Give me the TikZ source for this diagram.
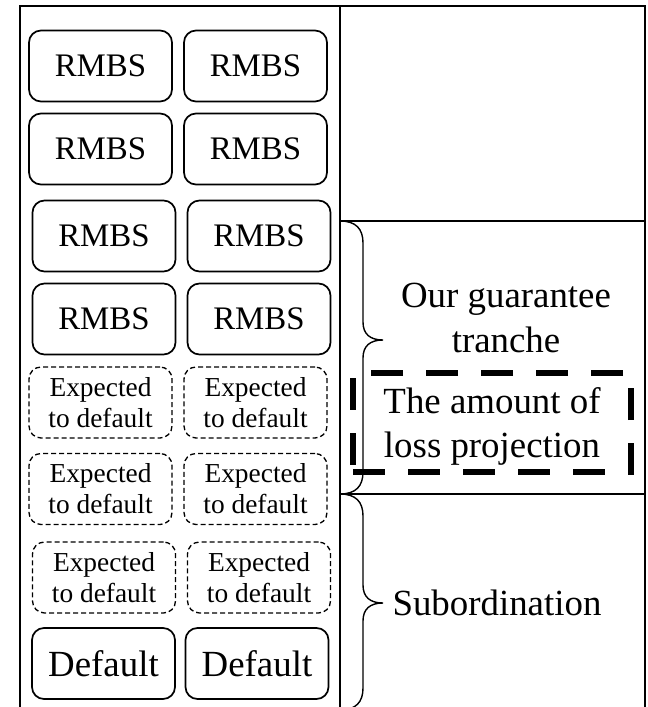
\documentclass[tikz,border=0pt]{standalone}
\usepackage{fontspec}
\setmainfont{Liberation Serif}
\begin{document}
\begin{tikzpicture}[x=1bp,y=-1bp,
  wall/.style={line width=1.8bp},
  brc/.style={line width=1.4bp},
  box/.style={draw,rounded corners=12bp,line width=1.7bp,inner sep=0pt,
    minimum width=143bp,minimum height=71bp},
  rmbs/.style={box,font=\fontsize{33}{38}\selectfont},
  expect/.style={box,line width=1.3bp,dash pattern=on 5bp off 3bp,
    align=center,font=\fontsize{27.5}{31}\selectfont},
  dflt/.style={box,font=\fontsize{37}{44}\selectfont},
  part/.style={align=center,font=\fontsize{37}{45}\selectfont},
  loss/.style={part,draw,line width=6bp,dash pattern=on 32bp off 23bp,
    inner sep=0pt,minimum width=278bp,minimum height=99bp}]
\useasboundingbox (0,0) rectangle (648,707);
% frame
\draw[wall] (20,712) -- (20,6) -- (645,6) -- (645,712);
\draw[wall] (340,6) -- (340,712);
\draw[wall] (340,221) -- (645,221);
\draw[wall] (340,494) -- (645,494);
% pool
\node[rmbs] (r1l) at (100.5,66) {RMBS};
\node[rmbs] (r1r) at (255.5,66) {RMBS};
\node[rmbs] (r2l) at (100.5,149) {RMBS};
\node[rmbs] (r2r) at (255.5,149) {RMBS};
\node[rmbs] (r3l) at (104,236) {RMBS};
\node[rmbs] (r3r) at (259,236) {RMBS};
\node[rmbs] (r4l) at (104,319) {RMBS};
\node[rmbs] (r4r) at (259,319) {RMBS};
\node[expect] (e1l) at (100.5,402.5) {Expected\\to default};
\node[expect] (e1r) at (255.5,402.5) {Expected\\to default};
\node[expect] (e2l) at (100.5,489) {Expected\\to default};
\node[expect] (e2r) at (255.5,489) {Expected\\to default};
\node[expect] (e3l) at (104,577.5) {Expected\\to default};
\node[expect] (e3r) at (259,577.5) {Expected\\to default};
\node[dflt] (d1l) at (103.5,663.5) {Default};
\node[dflt] (d1r) at (257,663.5) {Default};
% tranches
\draw[brc] (340,221) .. controls (356,221) and (363,229) .. (363,243) -- (363,322)
  .. controls (363,334) and (370,340) .. (383,340)
  .. controls (370,340) and (363,346) .. (363,358) -- (363,472)
  .. controls (363,486) and (356,494) .. (340,494);
\draw[brc] (340,494) .. controls (356,494) and (363,502) .. (363,516) -- (363,585)
  .. controls (363,597) and (370,603) .. (383,603)
  .. controls (370,603) and (363,609) .. (363,621) -- (363,688)
  .. controls (363,702) and (356,710) .. (340,710);
\node[part] (ourg) at (506,318) {Our guarantee\\tranche};
\node[loss] (proj) at (492,422.5) {};
\node[part] (projtxt) at (proj.center) [yshift=-4bp] {The amount of\\loss projection};
\node[part] (subo) at (497,603) {Subordination};
\end{tikzpicture}
\end{document}
